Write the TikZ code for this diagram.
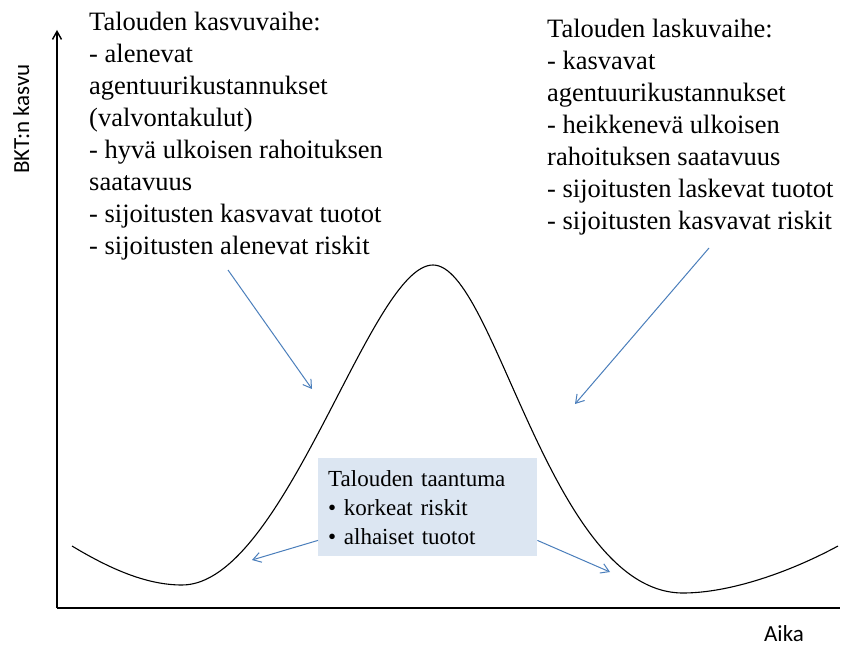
\documentclass[tikz,border=0pt]{standalone}
\usepackage{fontspec}
\setmainfont{Liberation Serif}
\setsansfont{Carlito}
\usetikzlibrary{arrows.meta,calc}
\definecolor{nuolisininen}{HTML}{4A7EBB}
\definecolor{laatikkovari}{HTML}{DCE6F2}
\tikzset{
    akseli/.style={black, line width=1.4pt},
    kayra/.style={black, line width=1.1pt},
    nuoli/.style={nuolisininen, line width=1pt, -{Straight Barb[length=8pt,width=10pt]}},
    vaihe/.style={anchor=north west, inner sep=0pt, align=left, font=\fontsize{26.5}{32}\selectfont},
    laatikko/.style={anchor=north west, fill=laatikkovari, minimum width=219pt, minimum height=98pt,
        text width=199pt, inner xsep=10pt, inner ysep=0pt, align=left, font=\fontsize{23}{29}\selectfont},
    selite/.style={font=\sffamily\fontsize{23}{27}\selectfont, inner sep=0pt},
}
\begin{document}
\begin{tikzpicture}[x=1pt,y=-1pt]
\useasboundingbox (0,0) rectangle (841,647);
% akselit
\coordinate (origo) at (57,608);
\coordinate (ylapaa) at (57,30);
\coordinate (oikea) at (840,608);
\draw[akseli,-{Straight Barb[length=8pt,width=9pt]}] (origo) -- (ylapaa);
\draw[akseli] (origo) -- (oikea);
\node[selite, rotate=90, anchor=base] (bkt) at (29,119) {BKT:n kasvu};
\node[selite, anchor=base] (aika) at (784,641) {Aika};
% suhdannekayra
\draw[kayra] (72,546) .. controls (115,572) and (150,585) .. (182,585)
    .. controls (285,585) and (370,265) .. (433,265)
    .. controls (495,265) and (550,593) .. (683,593)
    .. controls (730,593) and (790,572) .. (838,546);
% tekstit
\node[vaihe] (kasvu) at (89,12) {Talouden kasvuvaihe:\\- alenevat\\agentuurikustannukset\\(valvontakulut)\\- hyvä ulkoisen rahoituksen\\saatavuus\\- sijoitusten kasvavat tuotot\\- sijoitusten alenevat riskit};
\node[vaihe] (lasku) at (547,19) {Talouden laskuvaihe:\\- kasvavat\\agentuurikustannukset\\- heikkenevä ulkoisen\\rahoituksen saatavuus\\- sijoitusten laskevat tuotot\\- sijoitusten kasvavat riskit};
\node[laatikko] (taantuma) at (318,458) {Talouden taantuma\\• korkeat riskit\\• alhaiset tuotot};
% nuolet
\coordinate (kasvualku) at (228,270);
\coordinate (kasvukarki) at (312,389);
\coordinate (laskualku) at (709,248);
\coordinate (laskukarki) at (575,404);
\coordinate (vasenpohja) at (252,560);
\coordinate (oikeapohja) at (610,572);
\draw[nuoli] (kasvualku) -- (kasvukarki);
\draw[nuoli] (laskualku) -- (laskukarki);
\draw[nuoli] ($(taantuma.south west)+(0,-16)$) -- (vasenpohja);
\draw[nuoli] ($(taantuma.south east)+(0,-16)$) -- (oikeapohja);
\end{tikzpicture}
\end{document}
